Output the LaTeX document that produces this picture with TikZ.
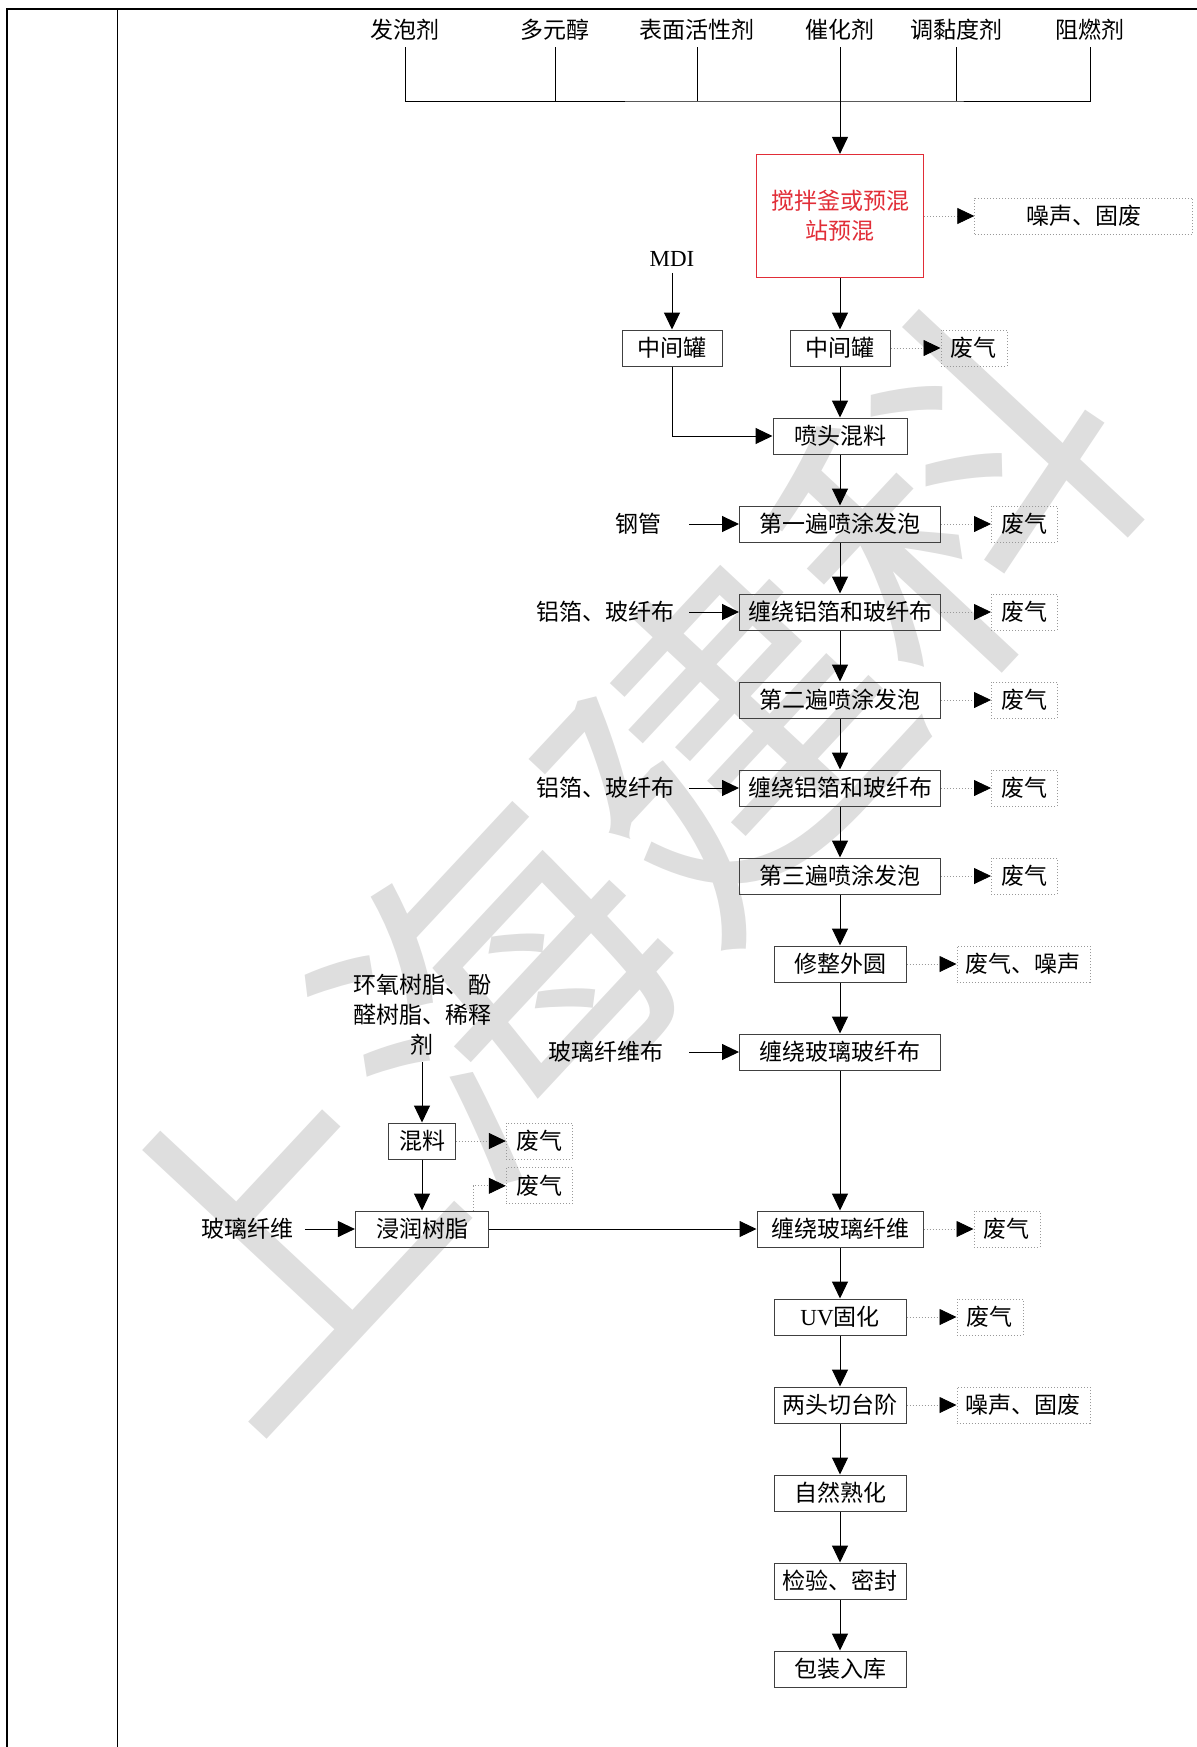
\documentclass[tikz,border=0pt]{standalone}
\usepackage{fontspec}
\setmainfont{Liberation Serif}
\newfontfamily\cjk{Noto Sans CJK SC}
\usetikzlibrary{arrows.meta,positioning}
\definecolor{mixred}{RGB}{225,45,55}
\newcommand\zh{\cjk\fontsize{11.5pt}{15pt}\selectfont}

\begin{document}
\begin{tikzpicture}[
  x=0.5pt, y=-0.5pt,
  box/.style={draw=black!75, line width=0.5pt, minimum height=18pt, inner sep=0pt, font=\zh},
  wide/.style={box, minimum width=100.5pt},
  mid/.style={box, minimum width=66pt},
  waste/.style={draw=black!40, dash pattern=on 0.5pt off 1pt, line width=0.4pt,
    minimum height=18pt, inner sep=0pt, font=\zh},
  gas/.style={waste, minimum width=33pt},
  lbl/.style={font=\zh, inner sep=3pt},
  flow/.style={-{Triangle[length=8.5pt,width=8pt]}, line width=0.5pt},
  vent/.style={-{Triangle[length=8.5pt,width=8pt,black]}, draw=black!40,
    dash pattern=on 0.5pt off 1pt, line width=0.4pt},
]
\useasboundingbox (0,0) rectangle (1197,1747);

% watermark
\node[rotate=47, text=black!13, font=\cjk\fontsize{168pt}{168pt}\selectfont]
  (wm) at (612,866) {上海建科};

% frame
\draw[line width=1.2pt] (7,1747) -- (7,9) -- (1197,9);
\draw[line width=0.6pt] (117.5,9) -- (117.5,1747);

% raw materials
\node[lbl] (fp) at (405,30) {发泡剂};
\node[lbl] (dy) at (555,30) {多元醇};
\node[lbl] (bm) at (697,30) {表面活性剂};
\node[lbl] (ch) at (840,30) {催化剂};
\node[lbl] (tn) at (956,30) {调黏度剂};
\node[lbl] (zr) at (1090,30) {阻燃剂};
\coordinate (bus) at (840,101);

% main line
\node[box, draw=mixred, text=mixred, align=center, minimum width=83.8pt,
  minimum height=61.6pt] (mix) at (840,216) {搅拌釜或预混\\站预混};
\node[lbl, font=\fontsize{11.5pt}{15pt}\selectfont] (mdi) at (672,259) {MDI};
\node[box, minimum width=50pt] (tk1) at (672,348) {中间罐};
\node[box, minimum width=50pt] (tk2) at (840,348) {中间罐};
\node[box, minimum width=67pt] (nz) at (840,436) {喷头混料};
\node[wide] (s1) at (840,524) {第一遍喷涂发泡};
\node[wide] (s2) at (840,612) {缠绕铝箔和玻纤布};
\node[wide] (s3) at (840,700) {第二遍喷涂发泡};
\node[wide] (s4) at (840,788) {缠绕铝箔和玻纤布};
\node[wide] (s5) at (840,876) {第三遍喷涂发泡};
\node[mid] (s6) at (840,964) {修整外圆};
\node[wide] (s7) at (840,1052) {缠绕玻璃玻纤布};
\node[box, minimum width=83pt] (s8) at (840,1229) {缠绕玻璃纤维};
\node[mid] (s9) at (840,1317) {\textrm{UV}固化};
\node[mid] (s10) at (840,1405) {两头切台阶};
\node[mid] (s11) at (840,1493) {自然熟化};
\node[mid] (s12) at (840,1581) {检验、密封};
\node[mid] (s13) at (840,1669) {包装入库};

% side inputs
\node[lbl] (gg) at (638,524) {钢管};
\node[lbl] (lb1) at (605,612) {铝箔、玻纤布};
\node[lbl] (lb2) at (605,788) {铝箔、玻纤布};
\node[lbl] (bx) at (606,1052) {玻璃纤维布};

% resin branch
\node[lbl, align=center] (rs) at (422,1015) {环氧树脂、酚\\醛树脂、稀释\\剂};
\node[box, minimum width=33.3pt] (hl) at (422,1141) {混料};
\node[box, minimum width=66.6pt] (jr) at (422,1229) {浸润树脂};
\node[lbl] (bw) at (247,1229) {玻璃纤维};

% emissions
\node[waste, minimum width=109pt, right=25pt of mix] (w0) {噪声、固废};
\node[gas, right=25pt of tk2] (w1) {废气};
\node[gas, right=25pt of s1] (w2) {废气};
\node[gas, right=25pt of s2] (w3) {废气};
\node[gas, right=25pt of s3] (w4) {废气};
\node[gas, right=25pt of s4] (w5) {废气};
\node[gas, right=25pt of s5] (w6) {废气};
\node[waste, minimum width=66.5pt, right=25pt of s6] (w7) {废气、噪声};
\node[gas, right=25pt of s8] (w8) {废气};
\node[gas, right=25pt of s9] (w9) {废气};
\node[waste, minimum width=66.5pt, right=25pt of s10] (w10) {噪声、固废};
\node[gas, right=25pt of hl] (w11) {废气};
\node[gas, below=4pt of w11] (w12) {废气};

% connectors
\draw[line width=0.5pt] (fp.south) |- (bus) -| (zr.south);
\draw[line width=0.5pt] (dy.south) -- (dy.south |- bus);
\draw[line width=0.5pt] (bm.south) -- (bm.south |- bus);
\draw[line width=0.5pt] (tn.south) -- (tn.south |- bus);
\draw[flow] (ch.south) -- (mix.north);
\draw[flow] (mix.south) -- (tk2.north);
\draw[flow] (mdi.south) -- (tk1.north);
\draw[flow] (tk2.south) -- (nz.north);
\draw[flow] (tk1.south) |- (nz.west);
\draw[flow] (nz.south) -- (s1.north);
\draw[flow] (s1.south) -- (s2.north);
\draw[flow] (s2.south) -- (s3.north);
\draw[flow] (s3.south) -- (s4.north);
\draw[flow] (s4.south) -- (s5.north);
\draw[flow] (s5.south) -- (s6.north);
\draw[flow] (s6.south) -- (s7.north);
\draw[flow] (s7.south) -- (s8.north);
\draw[flow] (s8.south) -- (s9.north);
\draw[flow] (s9.south) -- (s10.north);
\draw[flow] (s10.south) -- (s11.north);
\draw[flow] (s11.south) -- (s12.north);
\draw[flow] (s12.south) -- (s13.north);

\draw[flow] ([xshift=-25pt]s1.west) -- (s1.west);
\draw[flow] ([xshift=-25pt]s2.west) -- (s2.west);
\draw[flow] ([xshift=-25pt]s4.west) -- (s4.west);
\draw[flow] ([xshift=-25pt]s7.west) -- (s7.west);

\draw[flow] (rs.south) -- (hl.north);
\draw[flow] (hl.south) -- (jr.north);
\draw[flow] ([xshift=-25pt]jr.west) -- (jr.west);
\draw[flow] (jr.east) -- (s8.west);

\draw[vent] (mix.east) -- (w0.west);
\draw[vent] (tk2.east) -- (w1.west);
\draw[vent] (s1.east) -- (w2.west);
\draw[vent] (s2.east) -- (w3.west);
\draw[vent] (s3.east) -- (w4.west);
\draw[vent] (s4.east) -- (w5.west);
\draw[vent] (s5.east) -- (w6.west);
\draw[vent] (s6.east) -- (w7.west);
\draw[vent] (s8.east) -- (w8.west);
\draw[vent] (s9.east) -- (w9.west);
\draw[vent] (s10.east) -- (w10.west);
\draw[vent] (hl.east) -- (w11.west);
\draw[vent] ([xshift=-8pt]jr.north east) |- (w12.west);
\end{tikzpicture}
\end{document}
